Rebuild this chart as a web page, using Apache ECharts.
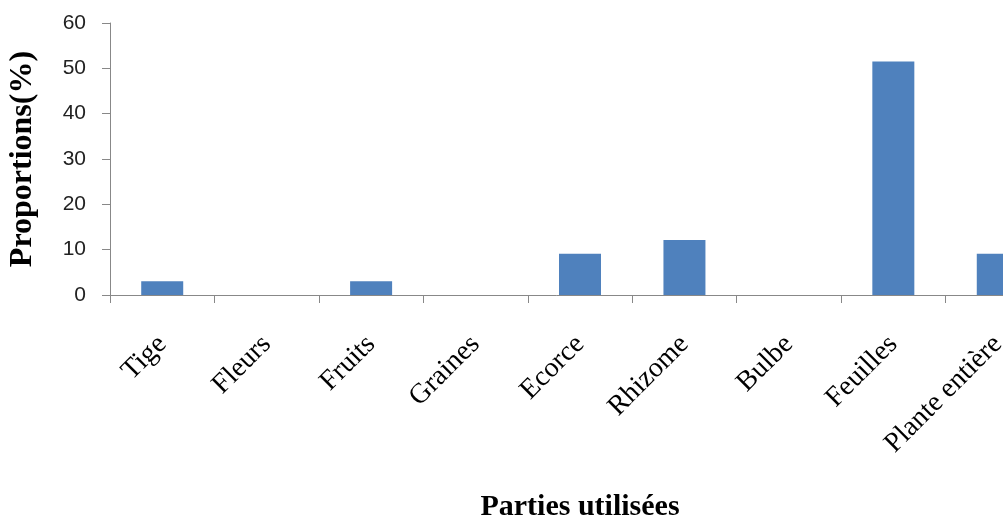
<!DOCTYPE html>
<html>
<head>
<meta charset="utf-8">
<script src="https://cdn.jsdelivr.net/npm/echarts@6/dist/echarts.min.js"></script>
<style>
  html, body { margin: 0; padding: 0; background: #ffffff; }
  #chart { width: 1003px; height: 517px; }
</style>
</head>
<body>
<div id="chart"></div>
<script>
// Parts of the plant used, share of recipes (%)
const categories = ['Tige', 'Fleurs', 'Fruits', 'Graines', 'Ecorce', 'Rhizome', 'Bulbe', 'Feuilles', 'Plante entière'];
const proportions = [3.03, 0, 3.03, 0, 9.09, 12.12, 0, 51.52, 9.09];
const yTicks = { min: 0, max: 60, interval: 10 };

const chart = echarts.init(document.getElementById('chart'));
chart.setOption({
  animation: false,
  grid: {
    left: 110, right: -47, top: 23, bottom: 222,
    containLabel: false,
    outerBoundsMode: 'none'
  },
  xAxis: {
    type: 'category',
    data: categories,
    name: 'Parties utilisées',
    nameLocation: 'middle',
    nameGap: 197,
    nameTextStyle: { fontFamily: 'Liberation Serif', fontWeight: 'bold', fontSize: 30, color: '#000' },
    axisLine: { lineStyle: { color: '#888', width: 1 } },
    axisTick: { show: true, alignWithLabel: false, length: 8, lineStyle: { color: '#888' } },
    axisLabel: {
      rotate: 45,
      margin: 45,
      interval: 0,
      hideOverlap: false,
      fontFamily: 'Liberation Serif',
      fontSize: 28,
      color: '#000'
    }
  },
  yAxis: {
    type: 'value',
    min: yTicks.min,
    max: yTicks.max,
    interval: yTicks.interval,
    name: 'Proportions(%)',
    nameLocation: 'middle',
    nameGap: 71,
    nameRotate: 90,
    nameTextStyle: { fontFamily: 'Liberation Serif', fontWeight: 'bold', fontSize: 32, color: '#000' },
    splitLine: { show: false },
    axisLine: { show: true, lineStyle: { color: '#888', width: 1 } },
    axisTick: { show: true, length: 8, lineStyle: { color: '#888' } },
    axisLabel: { fontFamily: 'Liberation Sans', fontSize: 21, color: '#222', margin: 24 }
  },
  series: [{
    type: 'bar',
    data: proportions,
    barWidth: 42,
    itemStyle: { color: '#4F81BD' }
  }]
});
</script>
</body>
</html>
